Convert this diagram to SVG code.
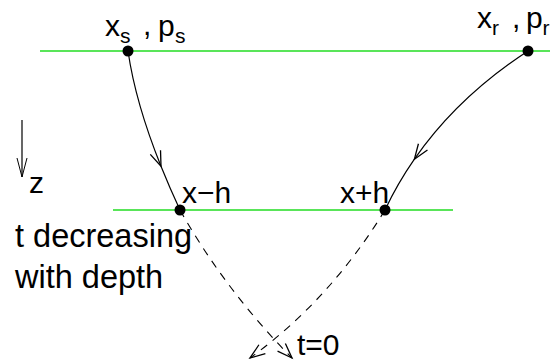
<svg xmlns="http://www.w3.org/2000/svg" width="550" height="362" viewBox="0 0 550 362">
<style>
text{font-family:"Liberation Sans",Arial,sans-serif;font-size:30px;fill:#000}
.sub{font-size:21px}
.note{font-size:32.5px}
.ground{stroke:#22dd22;stroke-width:1.5;fill:none}
.ray{stroke:#000;stroke-width:1.2;fill:none}
.dash{stroke:#000;stroke-width:1.1;fill:none;stroke-dasharray:8 7}
.dot{fill:#000}
</style>
<defs>
<marker id="arr" markerUnits="userSpaceOnUse" viewBox="0 0 18 14" markerWidth="18" markerHeight="14" refX="16" refY="7" orient="auto" overflow="visible">
<path d="M1,1.5 L16,7 L1,12.5" fill="none" stroke="#000" stroke-width="1.3" stroke-dasharray="none"/>
</marker>
<marker id="arrz" markerUnits="userSpaceOnUse" viewBox="0 0 22 12" markerWidth="22" markerHeight="12" refX="20" refY="6" orient="auto" overflow="visible">
<path d="M1,1 L20,6 L1,11" fill="none" stroke="#000" stroke-width="1"/>
</marker>
</defs>
<g id="surface"><line class="ground" x1="40" y1="51" x2="550" y2="51"/></g>
<g id="reflector"><line class="ground" x1="113" y1="210" x2="453" y2="210"/></g>
<g id="connectors">
<path class="ray" d="M128,51 Q135.5,102.75 161,166.3" marker-end="url(#arr)"/>
<path class="ray" d="M161,166.3 Q169.5,187.5 180,210"/>
<path class="ray" d="M528,51 Q457.44,97.08 414.4,159.2" marker-end="url(#arr)"/>
<path class="ray" d="M414.4,159.2 Q397.6,183.4 385,210"/>
<path class="dash" d="M180,210 Q225,290 292,358" marker-end="url(#arr)"/>
<path class="dash" d="M385,210 Q330,300 250,358" marker-end="url(#arr)"/>
<line class="ray" x1="22" y1="120" x2="22" y2="177" stroke-width="1" marker-end="url(#arrz)"/>
</g>
<g id="source"><circle class="dot" cx="128" cy="51" r="5.5"/>
<text x="105" y="36">x</text><text class="sub" x="120" y="43">s</text><text x="143" y="35">,</text><text x="158" y="36">p</text><text class="sub" x="175" y="43">s</text></g>
<g id="receiver"><circle class="dot" cx="528" cy="51" r="5.5"/>
<text x="477" y="28">x</text><text class="sub" x="492" y="35">r</text><text x="512" y="28">,</text><text x="526" y="28">p</text><text class="sub" x="542.5" y="35">r</text></g>
<g id="xminus"><circle class="dot" cx="180" cy="210" r="5.5"/><text x="182" y="203">x−h</text></g>
<g id="xplus"><circle class="dot" cx="385" cy="210" r="5.5"/><text x="340" y="203">x+h</text></g>
<g id="zlabel"><text x="29" y="193">z</text></g>
<g id="note"><text class="note" x="15" y="247">t decreasing</text><text class="note" x="15" y="288">with depth</text></g>
<g id="t0"><text x="297" y="355">t=0</text></g>
</svg>
